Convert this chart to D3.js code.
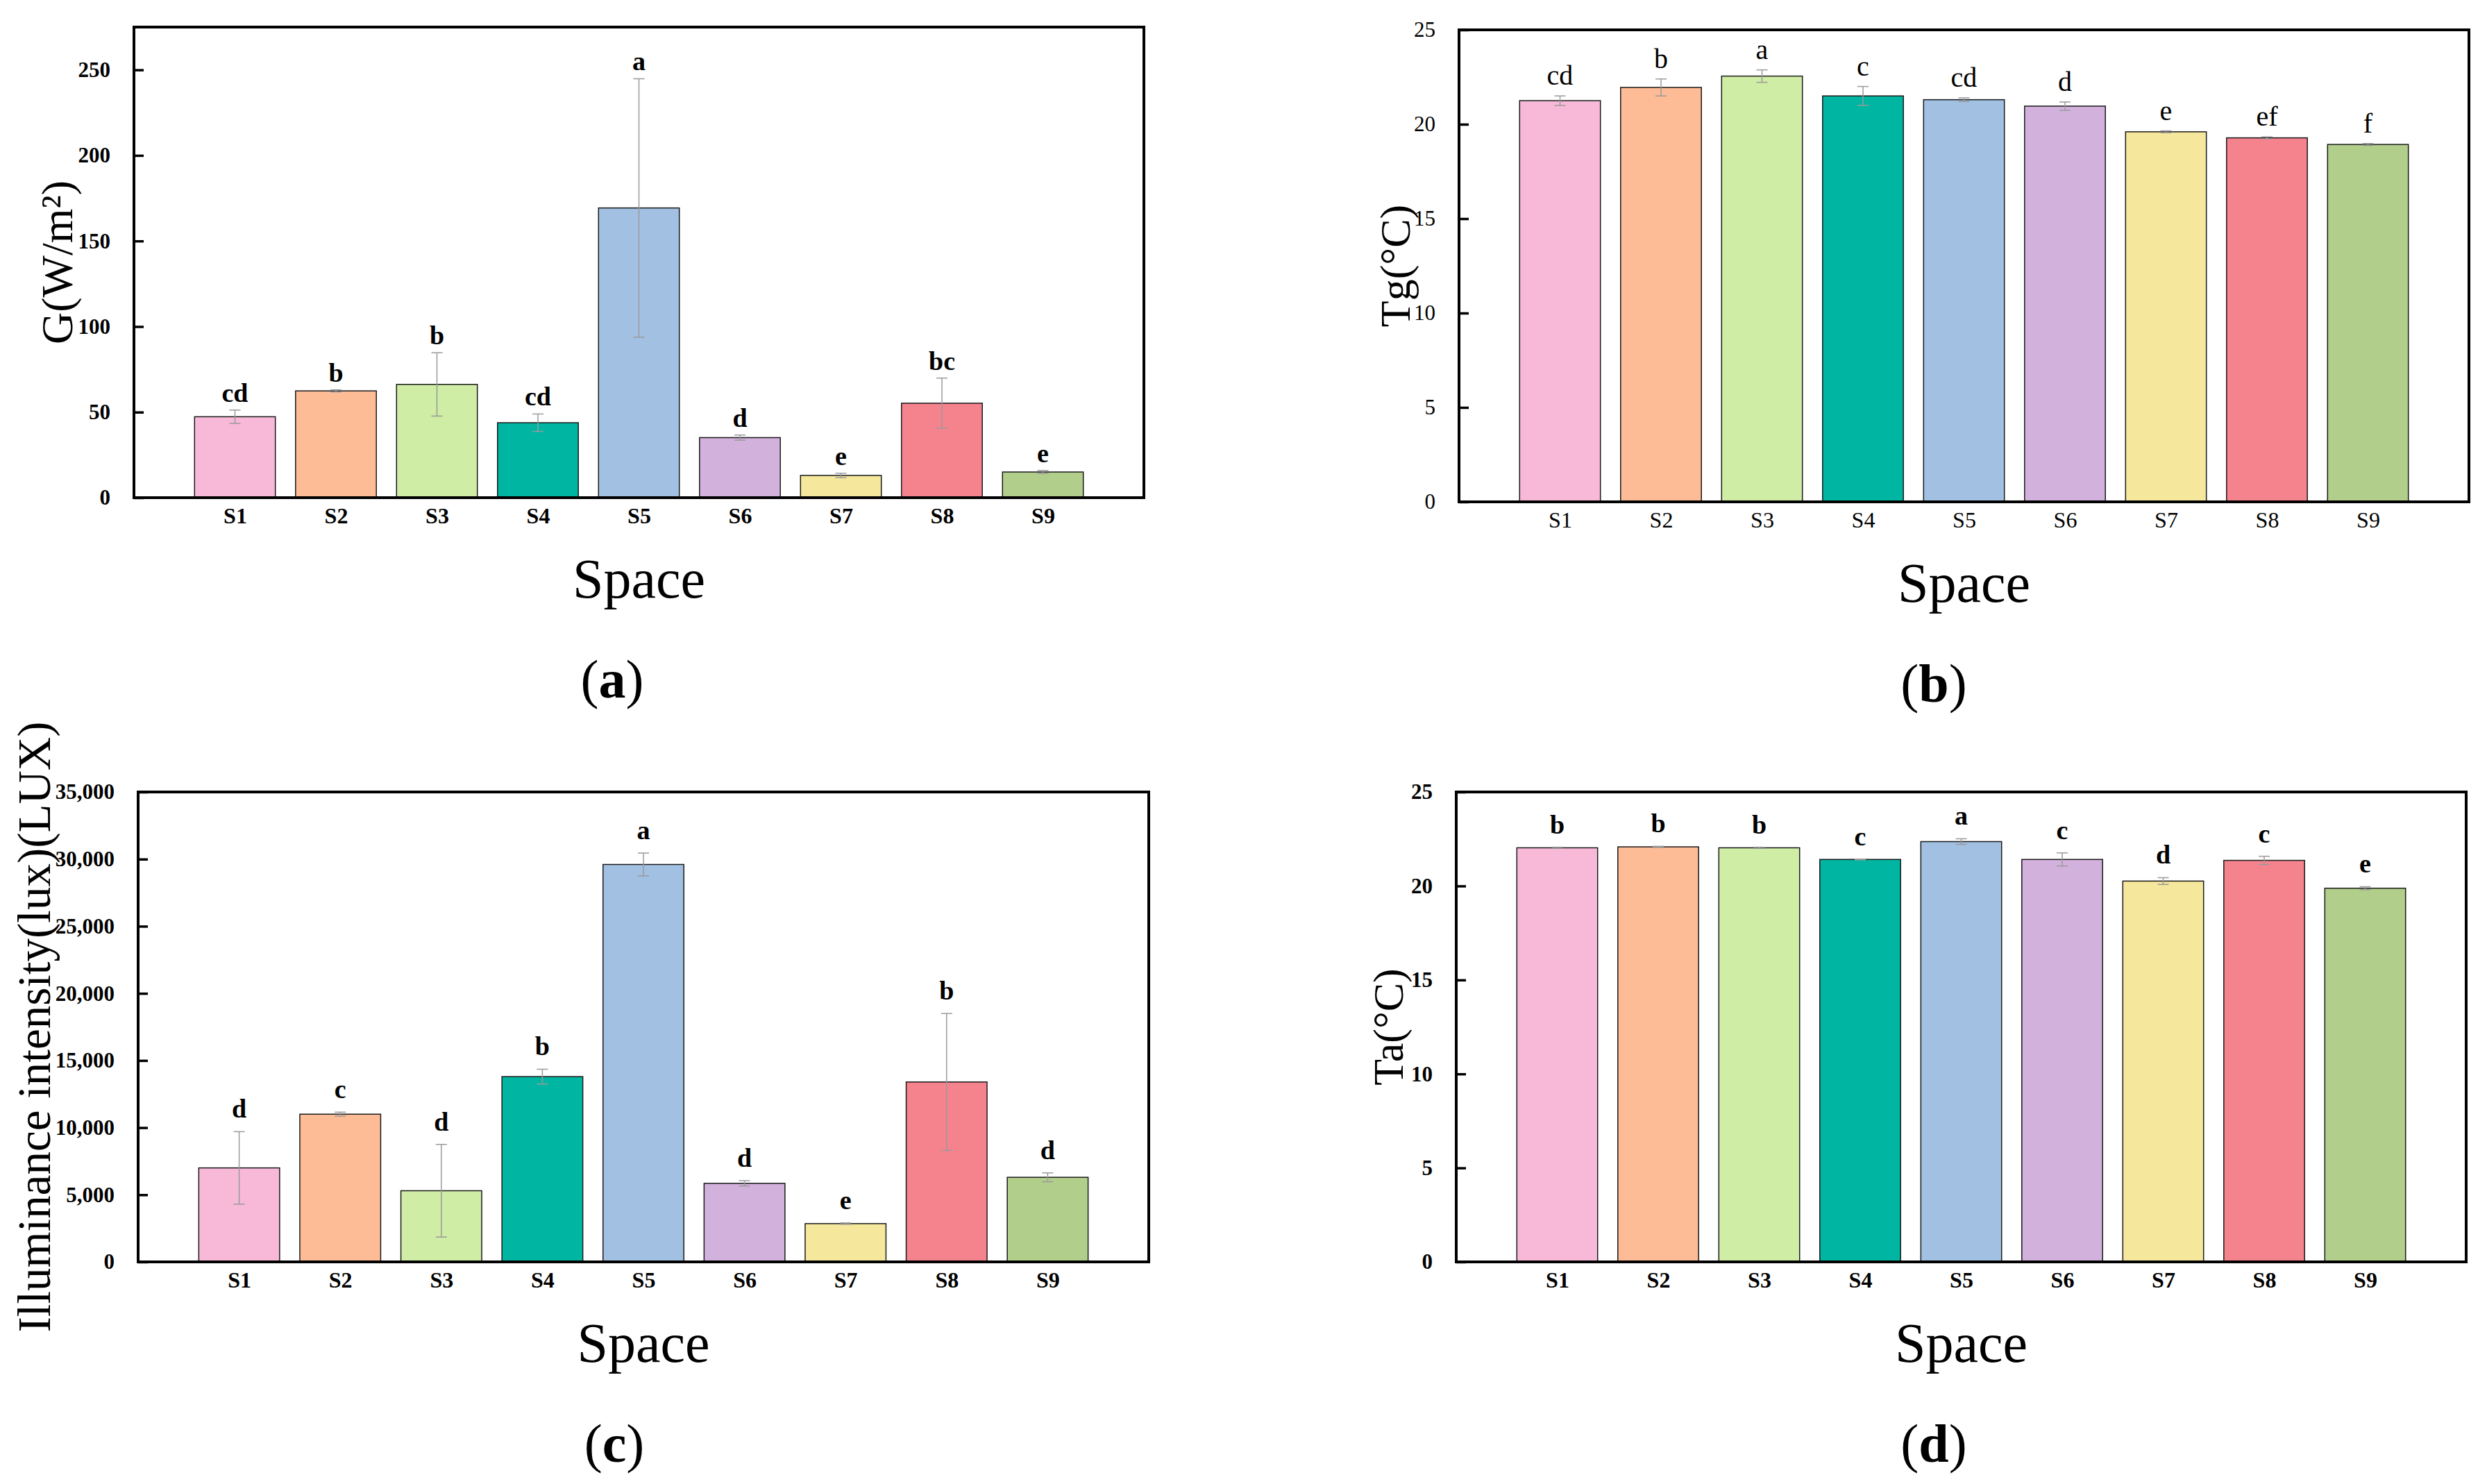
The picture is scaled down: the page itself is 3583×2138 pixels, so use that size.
<!DOCTYPE html>
<html>
<head>
<meta charset="utf-8">
<script src="https://cdn.jsdelivr.net/npm/d3@7"></script>
<style>
  html, body { margin: 0; padding: 0; background: #ffffff; }
  svg { display: block; }
</style>
</head>
<body>
<svg id="chart" width="3583" height="2138"></svg>
<script>
// ---------------- data ----------------
const categories = ["S1", "S2", "S3", "S4", "S5", "S6", "S7", "S8", "S9"];
const barColors = ["#F8B9D9", "#FDBB96", "#CFEDA4", "#00B6A2", "#A1C0E2", "#D3B1DD", "#F5E79B", "#F5838E", "#B1CF8B"];

// (a) Global radiation G (W/m²)
const gValues  = [47.3, 62.4, 66.2, 43.8, 169.3, 35.1, 13.0, 55.2, 15.0];
const gErrors  = [3.9, 0.6, 18.5, 5.1, 75.5, 1.5, 1.3, 14.7, 0.9];
const gLetters = ["cd", "b", "b", "cd", "a", "d", "e", "bc", "e"];
const gTicks   = [0, 50, 100, 150, 200, 250];

// (b) Globe temperature Tg (°C)
const tgValues  = [21.25, 21.95, 22.55, 21.5, 21.3, 20.96, 19.6, 19.28, 18.93];
const tgErrors  = [0.25, 0.45, 0.33, 0.5, 0.1, 0.22, 0.05, 0.05, 0.05];
const tgLetters = ["cd", "b", "a", "c", "cd", "d", "e", "ef", "f"];
const tgTicks   = [0, 5, 10, 15, 20, 25];

// (c) Illuminance intensity (lux)
const luxValues  = [7000, 11000, 5300, 13800, 29600, 5850, 2850, 13400, 6300];
const luxErrors  = [2700, 150, 3450, 550, 850, 200, 50, 5100, 330];
const luxLetters = ["d", "c", "d", "b", "a", "d", "e", "b", "d"];
const luxTicks   = [0, 5000, 10000, 15000, 20000, 25000, 30000, 35000];

// (d) Air temperature Ta (°C)
const taValues  = [22.03, 22.08, 22.03, 21.41, 22.36, 21.41, 20.26, 21.36, 19.88];
const taErrors  = [0.03, 0.03, 0.03, 0.02, 0.15, 0.35, 0.18, 0.22, 0.08];
const taLetters = ["b", "b", "b", "c", "a", "c", "d", "c", "e"];
const taTicks   = [0, 5, 10, 15, 20, 25];

// ---------------- layout ----------------
const FONT = "'Liberation Serif', 'Times New Roman', serif";
const svg = d3.select("#chart");

const panels = [
  { values: gValues, errors: gErrors, letters: gLetters, ticks: gTicks, ymax: 275,
    L: 193, R: 1648, T: 39, B: 717, ylabel: "G(W/m²)", ylabelX: 82, ylabelSize: 64,
    tag: "a", tagX: 882, bold: true, gap: 12, fmt: d3.format("d") },
  { values: tgValues, errors: tgErrors, letters: tgLetters, ticks: tgTicks, ymax: 25,
    L: 2102, R: 3557, T: 43, B: 723, ylabel: "Tg(°C)", ylabelX: 2010, ylabelSize: 62,
    tag: "b", tagX: 2786, bold: false, gap: 16, fmt: d3.format("d") },
  { values: luxValues, errors: luxErrors, letters: luxLetters, ticks: luxTicks, ymax: 35000,
    L: 199, R: 1655, T: 1141, B: 1818, ylabel: "Illuminance intensity(lux)(LUX)", ylabelX: 49, ylabelSize: 67,
    tag: "c", tagX: 885, bold: true, gap: 20, fmt: d3.format(",") },
  { values: taValues, errors: taErrors, letters: taLetters, ticks: taTicks, ymax: 25,
    L: 2098, R: 3553, T: 1141, B: 1818, ylabel: "Ta(°C)", ylabelX: 2000, ylabelSize: 62,
    tag: "d", tagX: 2786, bold: true, gap: 20, fmt: d3.format("d") }
];

panels.forEach(p => {
  const g = svg.append("g");
  const x = d3.scalePoint().domain(categories).range([p.L, p.R]).padding(1);
  const y = d3.scaleLinear().domain([0, p.ymax]).range([p.B, p.T]);
  const bw = x.step() * 0.8;
  const weight = p.bold ? "bold" : "normal";

  // bars
  g.selectAll("rect.bar").data(p.values).join("rect")
    .attr("class", "bar")
    .attr("x", (d, i) => x(categories[i]) - bw / 2)
    .attr("y", d => y(d))
    .attr("width", bw)
    .attr("height", d => y(0) - y(d))
    .attr("fill", (d, i) => barColors[i])
    .attr("stroke", "#1a1a1a")
    .attr("stroke-width", 1.5);

  // error bars
  const eb = g.selectAll("g.err").data(p.values).join("g").attr("class", "err")
    .attr("stroke", "#9a9a9a").attr("stroke-width", 1.5);
  eb.append("line")
    .attr("x1", (d, i) => x(categories[i])).attr("x2", (d, i) => x(categories[i]))
    .attr("y1", (d, i) => y(d + p.errors[i])).attr("y2", (d, i) => y(d - p.errors[i]));
  eb.append("line")
    .attr("x1", (d, i) => x(categories[i]) - 8).attr("x2", (d, i) => x(categories[i]) + 8)
    .attr("y1", (d, i) => y(d + p.errors[i])).attr("y2", (d, i) => y(d + p.errors[i]));
  eb.append("line")
    .attr("x1", (d, i) => x(categories[i]) - 8).attr("x2", (d, i) => x(categories[i]) + 8)
    .attr("y1", (d, i) => y(d - p.errors[i])).attr("y2", (d, i) => y(d - p.errors[i]));

  // significance letters
  g.selectAll("text.sig").data(p.letters).join("text")
    .attr("class", "sig")
    .attr("x", (d, i) => x(categories[i]))
    .attr("y", (d, i) => y(p.values[i] + p.errors[i]) - p.gap)
    .attr("text-anchor", "middle")
    .attr("font-family", FONT)
    .attr("font-size", p.bold ? 38 : 40)
    .attr("font-weight", weight)
    .attr("fill", "#000")
    .text(d => d);

  // y axis ticks (inward) and labels
  const yAxis = d3.axisLeft(y).tickValues(p.ticks).tickSize(-14).tickPadding(34).tickFormat(p.fmt);
  const ya = g.append("g").attr("transform", `translate(${p.L},0)`).call(yAxis);
  ya.select(".domain").remove();
  ya.selectAll(".tick line").attr("stroke", "#000").attr("stroke-width", 3.5);
  ya.selectAll(".tick text")
    .attr("font-family", FONT).attr("font-size", 31).attr("font-weight", weight)
    .attr("fill", "#000");

  // x axis labels (no ticks)
  const xAxis = d3.axisBottom(x).tickSize(0).tickPadding(14);
  const xa = g.append("g").attr("transform", `translate(0,${p.B})`).call(xAxis);
  xa.select(".domain").remove();
  xa.selectAll(".tick text")
    .attr("font-family", FONT).attr("font-size", 32).attr("font-weight", weight)
    .attr("fill", "#000");

  // frame
  g.append("rect")
    .attr("x", p.L).attr("y", p.T)
    .attr("width", p.R - p.L).attr("height", p.B - p.T)
    .attr("fill", "none").attr("stroke", "#000").attr("stroke-width", 4);

  // axis titles
  g.append("text")
    .attr("x", (p.L + p.R) / 2).attr("y", p.B + 144)
    .attr("text-anchor", "middle")
    .attr("font-family", FONT).attr("font-size", 80).attr("fill", "#000")
    .text("Space");

  g.append("text")
    .attr("transform", `translate(${p.ylabelX},${(p.T + p.B) / 2}) rotate(-90)`)
    .attr("text-anchor", "middle")
    .attr("dominant-baseline", "central")
    .attr("font-family", FONT).attr("font-size", p.ylabelSize).attr("fill", "#000")
    .text(p.ylabel);

  // panel tag
  const t = g.append("text")
    .attr("x", p.tagX).attr("y", p.B + 288)
    .attr("text-anchor", "middle")
    .attr("font-family", FONT).attr("font-size", 78).attr("fill", "#000");
  t.append("tspan").text("(");
  t.append("tspan").attr("font-weight", "bold").text(p.tag);
  t.append("tspan").text(")");
});
</script>
</body>
</html>
